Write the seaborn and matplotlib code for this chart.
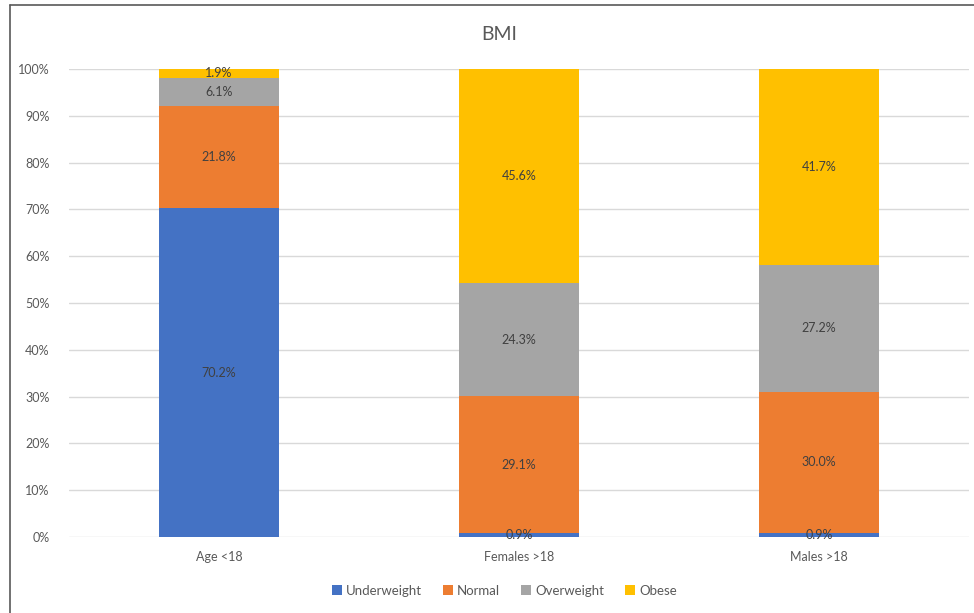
import numpy as np
import seaborn as sns
import matplotlib.pyplot as plt
from matplotlib.lines import Line2D
from matplotlib.patches import Patch

groups = ["Age <18", "Females >18", "Males >18"]
categories = ["Underweight", "Normal", "Overweight", "Obese"]
underweight = [70.2, 0.9, 0.9]
normal = [21.8, 29.1, 30.0]
overweight = [6.1, 24.3, 27.2]
obese = [1.9, 45.6, 41.7]
colors = ["#4472C4", "#ED7D31", "#A5A5A5", "#FFC000"]

sns.set_style("white")
plt.rcParams["font.family"] = ["Lato", "DejaVu Sans"]

series = np.array([underweight, normal, overweight, obese])
# 100% stacked: normalise each column
shares = series / series.sum(axis=0) * 100

fig = plt.figure(figsize=(9.74, 6.13), dpi=100)
ax = fig.add_axes([0.0708, 0.124, 0.9241, 0.7634])

bottom = np.zeros(len(groups))
for i, cat in enumerate(categories):
    sns.barplot(x=groups, y=shares[i], bottom=bottom, color=colors[i], width=0.4,
                saturation=1, ax=ax, zorder=3, linewidth=0)
    for j in range(len(groups)):
        yc = bottom[j] + shares[i][j] / 2
        ax.text(j, yc, f"{series[i][j]:.1f}%", ha="center", va="center",
                fontsize=9, color="#404040", zorder=5)
    bottom = bottom + shares[i]

ax.set_xlim(-0.5, 2.5)
ax.set_ylim(0, 100)
ax.set_yticks(range(0, 101, 10))
ax.set_yticklabels([f"{v}%" for v in range(0, 101, 10)])
ax.yaxis.grid(True, color="#D9D9D9", linewidth=1, zorder=0)
ax.set_axisbelow(True)
for s in ax.spines.values():
    s.set_visible(False)
ax.tick_params(axis="both", length=0, labelsize=9, labelcolor="#595959")
ax.tick_params(axis="y", pad=14)
ax.tick_params(axis="x", pad=10)
ax.set_xlabel("")
ax.set_ylabel("")

fig.text(0.512, 0.943, "BMI", ha="center", va="center", fontsize=14, color="#595959")

handles = [Patch(facecolor=c, edgecolor="none") for c in colors]
fig.legend(handles, categories, loc="center", bbox_to_anchor=(0.518, 0.036), ncol=4,
           frameon=False, fontsize=9.5, handlelength=0.75, handleheight=0.75,
           handletextpad=0.3, columnspacing=1.6, labelcolor="#595959")

# outer chart border (top and left visible)
fig.add_artist(Line2D([0.0103, 0.0103], [0, 0.992], transform=fig.transFigure,
                      color="#595959", linewidth=1.2))
fig.add_artist(Line2D([0.0103, 1], [0.992, 0.992], transform=fig.transFigure,
                      color="#595959", linewidth=1.2))

fig.savefig("out.png", dpi=100)
